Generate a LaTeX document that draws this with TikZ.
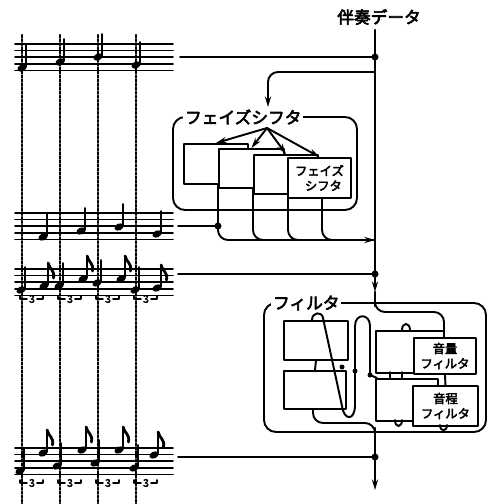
\documentclass[tikz,border=0pt]{standalone}
\usepackage{fontspec}
\newfontfamily\jpfont{Noto Sans CJK JP}[FakeBold=3.5]
\usetikzlibrary{arrows.meta}
\begin{document}
\begin{tikzpicture}[x=0.02cm, y=-0.02cm, line join=round, line cap=round, >={Stealth[length=6pt,width=3.5pt]},
  font=\jpfont\fontsize{9.5}{11}\selectfont,
  main/.style={line width=1.5pt},
  wire/.style={line width=1.1pt},
  staff/.style={line width=0.9pt},
  guide/.style={line width=1.3pt, densely dotted},
  box/.style={draw, fill=white, line width=1.1pt, anchor=north west, inner sep=0pt, align=center, font=\jpfont\fontsize{7}{8.5}\selectfont},
  tag/.style={fill=white, inner sep=1pt, anchor=west}]
\useasboundingbox (0,0) rectangle (488,504);
\def\blk(#1,#2,#3,#4)#5#6{\node[box, minimum width={(#3-#1)*0.02cm}, minimum height={(#4-#2)*0.02cm}] (#5) at (#1,#2) {#6};}
\def\qnote#1#2{\fill[rotate around={25:(#1,#2)}] (#1,#2) ellipse[x radius=4.8, y radius=3.4];
  \draw[line width=1.1pt] (#1+4.2,#2-1) -- (#1+4.2,#2-23);}
\def\enote#1#2{\qnote{#1}{#2}
  \draw[line width=1.6pt] (#1+4.2,#2-23) .. controls (#1+5,#2-17) and (#1+11,#2-16) .. (#1+9.5,#2-8);}
\def\tbr#1#2{\draw[line width=0.9pt] (#1,#2-3) -- (#1,#2) -- (#1+7,#2) (#1+17,#2) -- (#1+23,#2) -- (#1+23,#2-3);
  \node[inner sep=0pt, font=\jpfont\fontsize{6}{6}\selectfont] (tr-#1-#2) at (#1+12,#2) {3};}

% guides and staves
\foreach \x in {22,60,98,136} \draw[guide] (\x,35) -- (\x,504);
\foreach \y in {44,213,269,448} \foreach \k in {0,...,4} \draw[staff] (15,\y+\k*6.6) -- (173,\y+\k*6.6);
\foreach \x/\y in {22/68,60/62,98/57,136/65, 43/237,81/231,119/227,157/234,
  21/290,59/286,97/283,135/290, 20/471,57/466,95/463,134/468} \qnote{\x}{\y};
\foreach \x/\y in {44/286,83/279,121/279,157/288, 43/453,82/450,119/450,154/455} \enote{\x}{\y};
\foreach \x in {20,58,96,134} \foreach \y in {299,483} \tbr{\x}{\y};

% main line
\node (acc) at (379,17) {伴奏データ};
\coordinate (top) at (375,30);
\coordinate (j1) at (375,57);
\coordinate (psin) at (375,72);
\coordinate (psout) at (375,240);
\coordinate (j3) at (375,274);
\coordinate (fin) at (375,292);
\coordinate (j4) at (375,457);
\coordinate (end) at (375,490);
\coordinate (s1) at (180,57);
\coordinate (s2) at (178,226);
\coordinate (j2) at (218,226);
\coordinate (s3) at (178,274);
\coordinate (s4) at (178,457);
\draw[main,->] (top) -- (fin);
\draw[main] (fin) -- (375,306);
\draw[main,->] (375,428) -- (end);
\draw[wire] (s1) -- (j1) (s2) -- (j2) (s3) -- (j3) (s4) -- (j4);
\foreach \p in {j1,j2,j3,j4} \fill (\p) circle[radius=3.5];

% phase shifter
\draw[wire, rounded corners=2.4mm] (173,117) rectangle (357,210);
\node[tag] (pslbl) at (183,117) {フェイズシフタ};
\draw[wire,->,rounded corners=2mm] (psin) -| (268,107);
\blk(183,143,247,183){psa}{}
\blk(218,148,283,187){psb}{}
\blk(253,154,317,193){psc}{}
\blk(287,157,350,197){psd}{\hfill フェイズ\\ \hfill シフタ\,}
\foreach \b in {psa,psb,psc,psd}
  \draw[wire, rounded corners=2mm] ([xshift=0.7cm]\b.south west) |- (psout);
\draw[wire,->] (340,240) -- (psout);
\coordinate (fan) at (267,128);
\foreach \b in {psa,psb,psc,psd} \draw[wire,->] (fan) -- (\b.north);

% filter
\draw[wire, rounded corners=2.4mm] (264,303) rectangle (486,432);
\node[tag] (flbl) at (271,303) {フィルタ};
\draw[wire, rounded corners=2mm] (375,304) |- (444,312) -- (444,337);
\draw[wire, rounded corners=2mm] (313,408) |- (375,423) -- (375,432);
\blk(283,320,347,359){lf1}{}
\blk(283,370,345,408){lf2}{}
\draw[wire] (lf1.south) -- (lf2.north);
\blk(375,330,443,372){rf1}{}
\blk(413,337,475,373){vol}{音量\\フィルタ}
\blk(375,378,437,420){rf2}{}
\blk(412,385,477,425){pit}{音程\\フィルタ}
\draw[wire] (390,372) -- (390,378) (402,372) -- (402,378) (vol.south) -- (pit.north);
\draw[wire] (402,330) .. controls (402,322) and (410,322) .. (410,330);
\draw[wire] (395,420) .. controls (395,428) and (402,428) .. (402,420);
\draw[wire] (440,425) .. controls (440,432) and (447,432) .. (447,425);
\draw[wire] (312,320) .. controls (312,312) and (322,311) .. (323,318) -- (342,406)
  .. controls (344,421) and (355,421) .. (355,405) -- (355,326)
  .. controls (355,313) and (370,313) .. (370,326) -- (370,375) -- (377,378);
\foreach \p in {(342,367),(355,371),(370,375)} \fill \p circle[radius=2.5];
\end{tikzpicture}
\end{document}
